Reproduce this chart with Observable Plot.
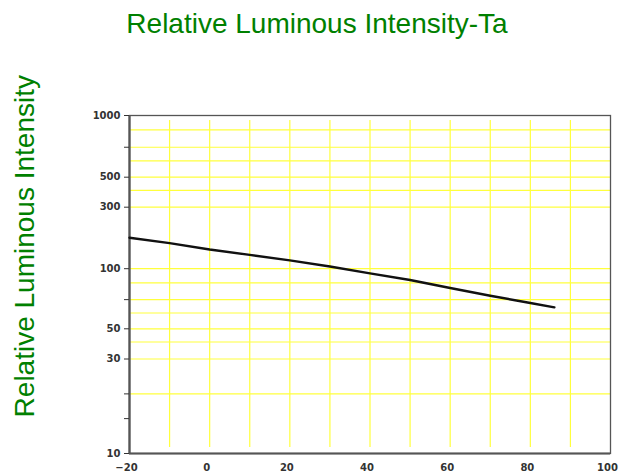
<!DOCTYPE html>
<html><head><meta charset="utf-8">
<script src="https://cdn.jsdelivr.net/npm/d3@7"></script>
<script src="https://cdn.jsdelivr.net/npm/@observablehq/plot@0.6"></script>
<style>
body{margin:0;background:#fff;}
#title{height:45px;box-sizing:border-box;padding-top:10px;padding-left:7px;text-align:center;font:28px "Liberation Sans",Arial,sans-serif;line-height:28px;color:#008000;white-space:nowrap;}
</style></head><body>
<div id="title">Relative Luminous Intensity-Ta</div>
<div id="chart"></div>
<script>
// Data
const temps = [-20, -10, 0, 10, 20, 30, 40, 50, 60, 70, 80, 86];
const intensity = [174, 158, 141, 128, 116, 104, 94.7, 87.8, 80, 73.2, 67.3, 64];
const xTicks = [-20, 0, 20, 40, 60, 80, 100];
const xGrid = [-10, 0, 10, 20, 30, 40, 50, 60, 70, 80, 90];
const yLabeled = [10, 30, 50, 100, 300, 500, 1000];
const yMinorTicks = [15, 20, 70, 700];
const yGrid = [20, 30, 40, 50, 60, 70, 85, 100, 300, 400, 500, 600, 700, 850];
const yTitle = "Relative Luminous Intensity";

const data = temps.map((t, i) => ({t, v: intensity[i]}));
const green = "#008000";
const grid = "#ffff3c";

const chart = Plot.plot({
  width: 627, height: 430,
  marginTop: 70, marginBottom: 22, marginLeft: 129, marginRight: 17,
  style: {background: "#fff", fontFamily: "DejaVu Sans", fontSize: "10px", fontWeight: "bold", color: "#222"},
  x: {domain: [-20, 100]},
  // the original's y axis is unevenly drawn: piecewise log scale through its labelled ticks
  y: {type: "log", domain: yLabeled, range: [408, 313.5, 283.3, 223.2, 161.7, 131.7, 70]},
  marks: [
    Plot.ruleX(xGrid, {stroke: grid, strokeWidth: 1.2, insetTop: 5, insetBottom: 6}),
    Plot.ruleY(yGrid, {stroke: grid, strokeWidth: 1.2}),
    Plot.frame({stroke: "#555", strokeWidth: 1.3}),
    Plot.ruleX([-20], {stroke: "#555", strokeWidth: 2.3}),
    Plot.ruleY([10], {stroke: "#555", strokeWidth: 2.2}),
    Plot.axisY({ticks: [...yLabeled, ...yMinorTicks], tickSize: 5, tickPadding: 4, label: null, color: "#333",
      tickFormat: d => yLabeled.includes(d) ? String(d) : ""}),
    Plot.axisX({ticks: xTicks, tickSize: 0, tickPadding: 10, dx: -3, label: null, color: "#333",
      tickFormat: d => d < 0 ? "\u2212" + (-d) : String(d)}),
    Plot.line(data, {x: "t", y: "v", stroke: "#111", strokeWidth: 2.4, strokeLinecap: "round"}),
    Plot.text([yTitle], {frameAnchor: "left", textAnchor: "middle", rotate: -90, dx: -104.7, dy: -38.3, fill: green,
      fontSize: 28, fontFamily: "Liberation Sans", fontWeight: "normal"})
  ]
});
document.getElementById("chart").appendChild(chart);
</script>
</body></html>
